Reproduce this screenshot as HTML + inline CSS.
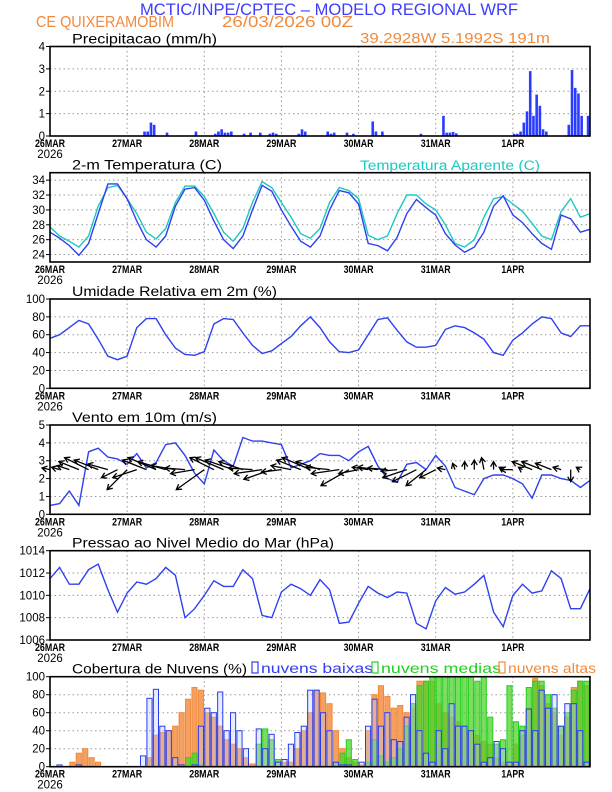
<!DOCTYPE html>
<html><head><meta charset="utf-8">
<style>
html,body{margin:0;padding:0;background:#fff;}
svg{display:block;font-family:"Liberation Sans",sans-serif;}
</style></head>
<body>
<svg id="chart" width="612" height="792" viewBox="0 0 612 792" xmlns="http://www.w3.org/2000/svg">
<text x="329" y="15" text-anchor="middle" font-size="17" fill="#3c3cff" textLength="378" lengthAdjust="spacingAndGlyphs">MCTIC/INPE/CPTEC – MODELO REGIONAL WRF</text>
<text x="36" y="27" font-size="16" fill="#f08a3c" textLength="138" lengthAdjust="spacingAndGlyphs">CE QUIXERAMOBIM</text>
<text x="222" y="27" font-size="16" fill="#f08a3c" textLength="131" lengthAdjust="spacingAndGlyphs">26/03/2026 00Z</text>
<text x="360" y="43" font-size="15" fill="#f08a3c" textLength="190" lengthAdjust="spacingAndGlyphs">39.2928W 5.1992S 191m</text>
<g id="plots"></g>
</svg>
<script>
// ---- data (hours since 26MAR 00Z) ----
const dayLabels = ["26MAR","27MAR","28MAR","29MAR","30MAR","31MAR","1APR"];
const precipHours = [29,30,31,32,36,45,51,52,53,54,55,56,60,62,65,68,69,70,77,78,79,86,87,88,92,94,100,101,103,115,122,123,124,125,126,144,145,146,147,148,149,150,151,152,153,154,161,162,163,164,165,167];
const precipValues = [0.2,0.2,0.6,0.5,0.15,0.2,0.1,0.2,0.3,0.15,0.15,0.2,0.1,0.15,0.15,0.1,0.15,0.1,0.1,0.3,0.2,0.2,0.1,0.15,0.15,0.1,0.65,0.2,0.2,0.1,0.9,0.15,0.15,0.18,0.12,0.1,0.1,0.2,0.6,1.1,2.9,0.9,1.85,1.35,0.3,0.2,0.5,2.95,2.15,1.9,0.9,0.9];
const hours3 = [0,3,6,9,12,15,18,21,24,27,30,33,36,39,42,45,48,51,54,57,60,63,66,69,72,75,78,81,84,87,90,93,96,99,102,105,108,111,114,117,120,123,126,129,132,135,138,141,144,147,150,153,156,159,162,165,168];
const tempValues = [27.0,26.2,25.2,23.9,25.5,29.5,33.5,33.5,31.5,28.5,26.0,25.0,26.5,30.5,32.8,33.0,31.3,28.5,26.0,24.8,26.5,30.0,33.3,32.5,30.0,27.8,25.8,25.0,26.5,30.0,32.6,32.3,30.8,25.5,25.2,24.5,26.3,29.5,31.4,30.3,29.3,26.8,25.3,24.3,25.0,27.0,30.5,31.9,29.3,28.3,26.8,25.5,24.7,29.3,28.8,27.0,27.4];
const apparentValues = [27.7,26.5,25.8,25.0,26.5,30.5,33.0,33.3,31.5,29.5,27.0,26.1,27.5,31.0,33.2,33.2,31.8,29.5,27.0,25.8,27.5,31.0,33.8,33.0,31.0,29.0,26.8,26.2,27.5,31.0,33.0,32.6,31.5,26.6,26.0,26.5,29.5,32.0,32.0,30.8,30.0,28.0,25.5,25.0,26.0,29.0,31.5,31.8,30.8,29.8,28.2,26.5,26.0,29.8,31.5,29.0,29.5];
const rhValues = [56,60,68,76,72,55,36,32,36,68,78,78,60,45,38,37,41,72,78,77,62,48,39,42,50,58,70,80,68,52,41,40,43,60,77,79,65,52,46,46,48,66,70,68,62,55,40,37,54,62,72,80,78,62,58,70,70];
const windSpeed = [0.5,0.6,1.3,0.5,3.5,3.7,3.2,3.1,2.8,3.4,2.6,2.9,3.9,4.0,3.3,2.3,1.7,3.6,3.0,2.7,4.3,4.1,4.1,4.0,3.9,2.6,2.8,3.0,3.4,3.3,3.3,3.0,3.5,3.8,2.7,2.0,1.8,2.8,2.9,2.5,3.3,2.7,1.5,1.3,1.1,2.0,2.2,2.2,2.0,1.7,0.9,2.2,2.2,2.0,1.9,1.5,1.9];
const windU = [-1,-1,-1.5,-2.5,-3,-3,-2.5,-2,-2.5,-3,-3,-3.5,-3.5,-3,-2.5,-3,-3.5,-3,-3.5,-3.5,-3,-3,-3.5,-3.5,-2.5,-2.5,-3,-3.5,-3,-3,-3.5,-3.5,-2.5,-2,-2.5,-2.5,-2,-3,-3,-2.5,-2,-1,-0.3,0,0,-0.3,0,-0.5,-1.5,-0.5,-2.5,-2.5,-2,-1,0,-0.5,0];
const windV = [0.2,0.3,0.5,1,1.5,1.2,0.7,-1,-2.5,-1,1.2,1.5,1,0.5,0.2,-0.5,-2.5,1.5,1.5,1.2,1,0.2,-0.5,-1.2,-0.3,0.5,1.2,1.5,1,0.3,-0.5,-2,-0.5,0.3,0.3,0.2,-0.2,-1,-1.5,-2,-1,0.2,0.8,1,1.2,1.5,1,0.3,0,0.3,1,1,0.8,0.3,-1.5,0.3,0];
const pressureValues = [1011.5,1012.5,1011.0,1011.0,1012.3,1012.8,1010.5,1008.5,1010.2,1011.2,1011.0,1011.5,1012.5,1011.8,1008.0,1008.8,1010.0,1011.3,1010.8,1010.8,1012.3,1011.5,1008.2,1008.0,1010.3,1011.0,1010.6,1010.0,1011.4,1010.5,1007.5,1007.6,1009.3,1010.8,1010.2,1009.8,1010.3,1010.2,1007.5,1007.0,1009.5,1010.7,1010.1,1010.3,1011.0,1011.8,1008.5,1007.2,1010.0,1011.0,1010.2,1010.4,1012.2,1011.5,1008.8,1008.8,1010.6];
const cloudHighValues = [0,0,0,5,15,20,10,5,0,0,0,0,0,0,0,10,35,38,40,45,60,75,88,85,60,55,45,30,25,20,10,3,0,0,0,0,5,5,20,40,60,85,82,70,40,20,10,5,2,40,80,90,78,65,68,60,65,95,95,95,70,60,55,50,45,40,35,28,25,10,5,5,25,35,65,98,90,70,60,35,55,88,95,90];
const cloudMidValues = [0,0,0,0,0,0,0,0,0,0,0,0,0,0,0,0,0,0,0,0,0,10,15,2,0,0,0,0,0,0,0,0,25,42,30,8,0,0,0,0,0,0,0,0,5,15,30,8,0,5,30,12,5,10,20,45,70,90,95,100,100,100,100,100,100,100,95,100,55,25,30,90,50,45,88,95,95,80,65,45,60,85,95,95];
const cloudLowValues = [0,2,0,0,2,0,0,0,0,0,0,0,0,0,12,76,86,45,40,10,2,0,2,45,65,60,83,40,60,40,20,0,42,20,36,5,8,25,38,45,85,85,60,40,5,2,2,0,5,45,75,45,60,30,28,55,80,40,15,5,40,20,70,45,45,40,25,5,10,28,20,5,5,40,64,40,85,65,80,45,70,70,40,5];

const NS="http://www.w3.org/2000/svg";
const g=document.getElementById('plots');
const X0=50, X1=590, H=168;
function X(h){return X0+h*(X1-X0)/H;}
function el(tag,attrs,parent){const e=document.createElementNS(NS,tag);for(const k in attrs)e.setAttribute(k,attrs[k]);(parent||g).appendChild(e);return e;}
function mkY(p){return v=>p.bot-(v-p.min)/(p.max-p.min)*(p.bot-p.top);}

function panel(p){
  const grp=el('g',{});
  
  
  const Y=mkY(p);
  for(let d=1;d<7;d++){const gl=el('line',{x1:X(d*24),x2:X(d*24),y1:p.top,y2:p.bot,stroke:'#999','stroke-dasharray':'1.5,3','stroke-width':1},grp);}
  p.ticks.forEach(t=>{
    if(t>p.min&&t<p.max){const gl=el('line',{x1:X0,x2:X1,y1:Y(t),y2:Y(t),stroke:'#999','stroke-dasharray':'1.5,3','stroke-width':1},grp);}
    const tk=el('line',{x1:X0-4,x2:X0,y1:Y(t),y2:Y(t),stroke:'#000'},grp);
    
    const tl=el('text',{x:X0-5,y:Y(t)+4,'text-anchor':'end','font-size':11.5,fill:'#000'},grp);
    
    tl.textContent=t;
  });
  dayLabels.forEach((lab,i)=>{
    const tl=el('text',{x:X(i*24),y:p.bot+11,'text-anchor':'middle','font-size':11,'font-weight':'bold',fill:'#000',textLength:lab.length>4?30:23,lengthAdjust:'spacingAndGlyphs'},grp);
    
    tl.textContent=lab;
  });
  const yl=el('text',{x:X0,y:p.bot+22,'text-anchor':'middle','font-size':11.5,fill:'#000'},grp);
  
  yl.textContent='2026';
  const tt=el('text',{x:72,y:p.top-3,'font-size':13.5,fill:'#000',textLength:p.tlen,lengthAdjust:'spacingAndGlyphs'},grp);
  
  tt.textContent=p.title;
  p.grp=grp;p.Y=Y;
  return p;
}
function frame(p){
  const f=el('rect',{x:X0,y:p.top,width:X1-X0,height:p.bot-p.top,fill:'none',stroke:'#000','stroke-width':1.6},p.grp);
  
}
function line(p,xs,ys,color,name){
  const d=xs.map((h,i)=>(i?'L':'M')+X(h).toFixed(1)+','+p.Y(ys[i]).toFixed(1)).join('');
  const l=el('path',{d:d,fill:'none',stroke:color,'stroke-width':1.4},p.grp);
  
}

const p1=panel({name:'precip-panel',top:46.5,bot:136,min:0,max:4,ticks:[0,1,2,3,4],title:'Precipitacao (mm/h)',tlen:145});
precipHours.forEach((h,i)=>{
  const b=el('rect',{x:X(h),y:p1.Y(precipValues[i]),width:2.6,height:p1.bot-p1.Y(precipValues[i]),fill:'#2a3cff'},p1.grp);
  
});
frame(p1);

const p2=panel({name:'temperature-panel',top:172.7,bot:262,min:23,max:35,ticks:[24,26,28,30,32,34],title:'2-m Temperatura (C)',tlen:150});
const at=el('text',{x:360,y:170,'font-size':13.5,fill:'#1cc8c0',textLength:180,lengthAdjust:'spacingAndGlyphs'},p2.grp);

at.textContent='Temperatura Aparente (C)';
line(p2,hours3,apparentValues,'#1cc8c0','apparent-temp-line');
line(p2,hours3,tempValues,'#3040f0','temp-line');
frame(p2);

const p3=panel({name:'humidity-panel',top:299,bot:388.3,min:0,max:100,ticks:[0,20,40,60,80,100],title:'Umidade Relativa em 2m (%)',tlen:205});
line(p3,hours3,rhValues,'#3040f0','humidity-line');
frame(p3);

const p4=panel({name:'wind-panel',top:425,bot:514.3,min:0,max:5,ticks:[0,1,2,3,4,5],title:'Vento em 10m (m/s)',tlen:145});
line(p4,hours3,windSpeed,'#3040f0','wind-speed-line');
hours3.forEach((h,i)=>{
  const x=X(h), y=p4.Y(2.5), k=8;
  const x2=x+windU[i]*k, y2=y-windV[i]*k;
  const len=Math.hypot(x2-x,y2-y);
  if(len<1)return;
  const ux=(x2-x)/len, uy=(y2-y)/len;
  const a=el('path',{d:`M${x},${y}L${x2},${y2}M${x2-ux*5-uy*3},${y2-uy*5+ux*3}L${x2},${y2}L${x2-ux*5+uy*3},${y2-uy*5-ux*3}`,stroke:'#000',fill:'none','stroke-width':1.3},p4.grp);
  
});
frame(p4);

const p5=panel({name:'pressure-panel',top:550.7,bot:640,min:1006,max:1014,ticks:[1006,1008,1010,1012,1014],title:'Pressao ao Nivel Medio do Mar (hPa)',tlen:262});
line(p5,hours3,pressureValues,'#3040f0','pressure-line');
frame(p5);

const p6=panel({name:'cloud-panel',top:676.7,bot:766.7,min:0,max:100,ticks:[0,20,40,60,80,100],title:'Cobertura de Nuvens (%)',tlen:175});
[['#3040f0',252,'nuvens baixas',112,'legend-low-clouds'],['#22d022',372,'nuvens medias',120,'legend-mid-clouds'],['#f08a3c',499,'nuvens altas',88,'legend-high-clouds']].forEach(L=>{
  const r=el('rect',{x:L[1],y:662,width:6,height:11,fill:'none',stroke:L[0],'stroke-width':1.2},p6.grp);
  
  const t=el('text',{x:L[1]+9,y:673,'font-size':13.5,fill:L[0],textLength:L[3],lengthAdjust:'spacingAndGlyphs'},p6.grp);
  
  t.textContent=L[2];
});
function cloudBars(vals,fill,stroke,name){
  vals.forEach((v,i)=>{
    if(v<=0)return;
    const h=i*2, w=(X(2)-X(0))*0.8;
    const b=el('rect',{x:X(h)+0.5,y:p6.Y(v),width:w,height:p6.bot-p6.Y(v),fill:fill,stroke:stroke,'stroke-width':1},p6.grp);
    
  });
}
cloudBars(cloudHighValues,'#f5a060','#f08a3c','high-cloud-bar');
cloudBars(cloudMidValues,'rgba(80,210,40,0.75)','#22d022','mid-cloud-bar');
cloudBars(cloudLowValues,'rgba(190,200,255,0.35)','#2a3cf0','low-cloud-bar');
frame(p6);
</script>
</body></html>
